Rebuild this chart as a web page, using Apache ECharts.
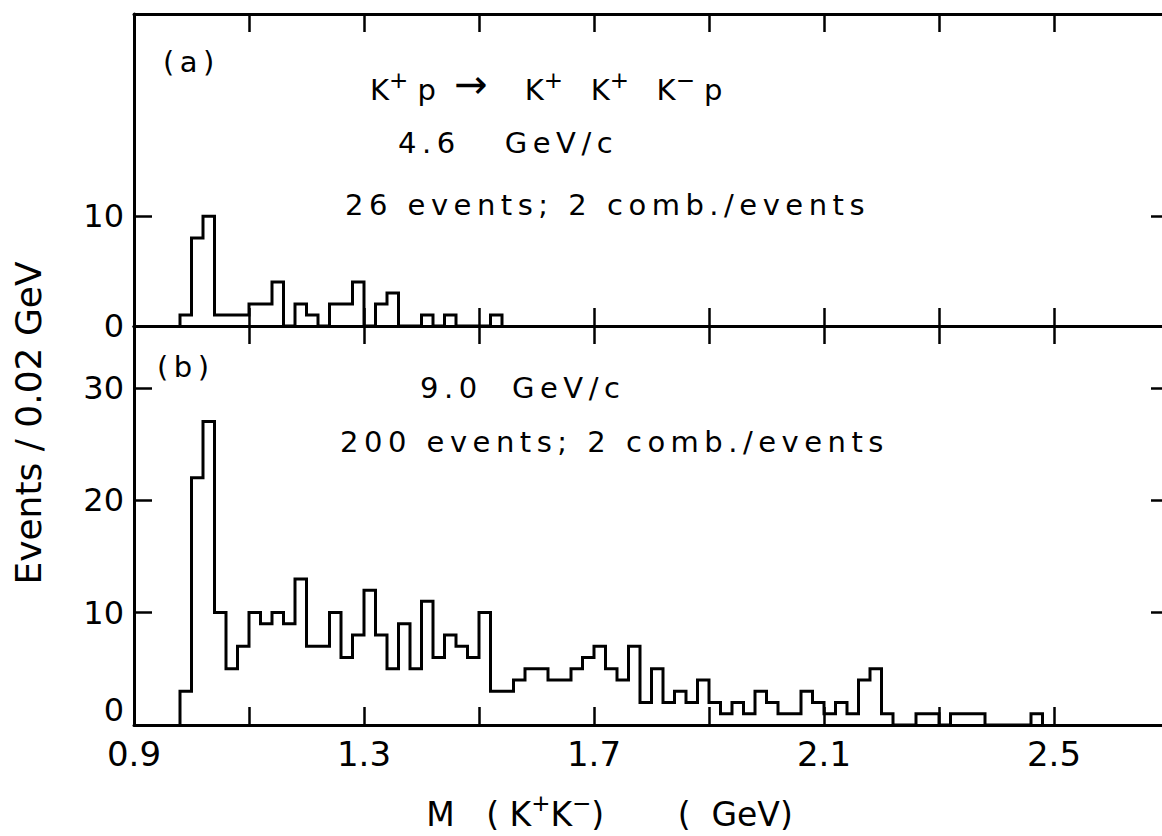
<!DOCTYPE html>
<html>
<head>
<meta charset="utf-8">
<title>M(K+K-) spectra</title>
<script src="https://cdn.jsdelivr.net/npm/echarts@6/dist/echarts.min.js"></script>
<style>
  html, body { margin: 0; padding: 0; background: #fff; }
  #chart { width: 1162px; height: 836px; }
  #chart text { white-space: pre; }
  /* the hand-lettered annotations are widely spaced */
  #chart text[style*="spaced"] { letter-spacing: 5.5px; }
</style>
</head>
<body>
<div id="chart"></div>
<script>
// bins are 0.02 GeV wide, counted from the first bin edge
const binWidth = 0.02;
const firstBin = 0.98;

// (a) 4.6 GeV/c
const countsA = [1, 8, 10, 1, 1, 1, 2, 2, 4, 0, 2, 1, 0, 2, 2, 4, 0, 2, 3, 0,
  0, 1, 0, 1, 0, 0, 0, 1];

// (b) 9.0 GeV/c
const countsB = [3, 22, 27, 10, 5, 7, 10, 9, 10, 9, 13, 7, 7, 10, 6, 8, 12, 8, 5, 9,
  5, 11, 6, 8, 7, 6, 10, 3, 3, 4, 5, 5, 4, 4, 5, 6, 7, 5, 4, 7,
  2, 5, 2, 3, 2, 4, 2, 1, 2, 1, 3, 2, 1, 1, 3, 2, 1, 2, 1, 4,
  5, 1, 0, 0, 1, 1, 0, 1, 1, 1, 0, 0, 0, 0, 1];

const xLabels = [0.9, 1.3, 1.7, 2.1, 2.5];
const yTicksA = [0, 10];
const yTicksB = [0, 10, 20, 30];

const FONT = "'DejaVu Sans'";
const FONT_SPACED = "'DejaVu Sans', spaced";

function histPoints(start, counts) {
  const pts = [[start, 0]];
  counts.forEach((c, i) => pts.push([+(start + i * binWidth).toFixed(2), c]));
  pts.push([+(start + counts.length * binWidth).toFixed(2), 0]);
  return pts;
}

const lineStyle = { color: '#000', width: 3 };
const tick = { show: true, inside: true, length: 18, lineStyle: { color: '#000', width: 2.5 } };

function xAxis(gridIndex, position, withLabels) {
  const ax = {
    type: 'value', gridIndex, position,
    min: 0.9, max: 2.7, interval: 0.2,
    axisLine: { show: true, onZero: false, lineStyle },
    axisTick: tick,
    splitLine: { show: false },
    axisLabel: { show: false }
  };
  if (withLabels) {
    ax.axisLabel = {
      show: true, margin: 12, color: '#000', fontSize: 34, fontFamily: FONT,
      formatter: v => xLabels.some(l => Math.abs(l - v) < 1e-6) ? v.toFixed(1) : ''
    };
    ax.name = '{m|M   ( K}{s|+}{m|K}{s|\u2212}{m|)       (  GeV)}';
    ax.nameLocation = 'middle';
    ax.nameGap = 66;
    ax.nameMoveOverlap = false;
    ax.nameTextStyle = {
      color: '#000', fontFamily: FONT, fontSize: 33, padding: [0, 84, 0, 0],
      rich: {
        m: { fontSize: 33, fontFamily: FONT, color: '#000', lineHeight: 40, verticalAlign: 'bottom' },
        s: { fontSize: 23, fontFamily: FONT, color: '#000', lineHeight: 22, verticalAlign: 'top' }
      }
    };
  }
  return ax;
}

function yAxis(gridIndex, position, max, ticks, withLabels) {
  return {
    type: 'value', gridIndex, position, min: 0, max,
    axisLine: { show: true, onZero: false, lineStyle },
    axisTick: Object.assign({ customValues: ticks }, tick),
    splitLine: { show: false },
    axisLabel: withLabels ? {
      show: true, customValues: ticks, margin: 10, color: '#000',
      fontSize: 32, fontFamily: FONT,
      // the bottom "0" of panel (b) sits above the axis line
      formatter: v => (gridIndex === 1 && v === 0) ? '{z|0}' : String(v),
      rich: { z: { fontSize: 32, fontFamily: FONT, color: '#000', padding: [0, 0, 30, 0] } }
    } : { show: false }
  };
}

function note(x, y, text, extra) {
  return {
    type: 'text', x, y, silent: true,
    style: Object.assign({
      text, fill: '#000', fontSize: 29, fontFamily: FONT_SPACED,
      align: 'left', verticalAlign: 'middle'
    }, extra || {})
  };
}

const chart = echarts.init(document.getElementById('chart'), null, { renderer: 'svg' });

chart.setOption({
  animation: false,
  backgroundColor: '#fff',
  grid: [
    { left: 134, right: -7, top: 14, height: 312, containLabel: false, outerBoundsMode: 'none' },
    { left: 134, right: -7, top: 326, height: 399, containLabel: false, outerBoundsMode: 'none' }
  ],
  xAxis: [
    xAxis(0, 'bottom', false),
    xAxis(0, 'top', false),
    xAxis(1, 'bottom', true),
    xAxis(1, 'top', false)
  ],
  yAxis: [
    yAxis(0, 'left', 28.4, yTicksA, true),
    yAxis(0, 'right', 28.4, yTicksA, false),
    yAxis(1, 'left', 35.5, yTicksB, true),
    yAxis(1, 'right', 35.5, yTicksB, false)
  ],
  series: [
    {
      type: 'line', xAxisIndex: 0, yAxisIndex: 0, step: 'end', symbol: 'none',
      lineStyle: { color: '#000', width: 3, join: 'miter', cap: 'butt' },
      data: histPoints(firstBin, countsA)
    },
    {
      type: 'line', xAxisIndex: 2, yAxisIndex: 2, step: 'end', symbol: 'none',
      lineStyle: { color: '#000', width: 3, join: 'miter', cap: 'butt' },
      data: histPoints(firstBin, countsB)
    }
  ],
  graphic: [
    {
      type: 'text', x: 28, y: 423, rotation: Math.PI / 2, silent: true,
      style: {
        text: 'Events / 0.02 GeV', fill: '#000', fontSize: 36, fontFamily: FONT,
        align: 'center', verticalAlign: 'middle'
      }
    },
    note(163, 62, '(a)'),
    {
      type: 'text', x: 370, y: 68, silent: true,
      style: {
        text: '{m|K}{s|+}{m| p  }{a|\u2192}{m|    K}{s|+}{m|   K}{s|+}{m|   K}{s|\u2212}{m| p}',
        fill: '#000', fontSize: 29, fontFamily: FONT, align: 'left', verticalAlign: 'top',
        rich: {
          m: { fontSize: 29, fontFamily: FONT, fill: '#000', lineHeight: 36, verticalAlign: 'bottom' },
          s: { fontSize: 23, fontFamily: FONT, fill: '#000', lineHeight: 20, verticalAlign: 'top' },
          a: { fontSize: 40, fontFamily: FONT, fill: '#000', lineHeight: 36, verticalAlign: 'bottom' }
        }
      }
    },
    note(398, 143, '4.6   GeV/c'),
    note(345, 205, '26 events; 2 comb./events'),
    note(157, 367, '(b)'),
    note(420, 388, '9.0  GeV/c'),
    note(340, 442, '200 events; 2 comb./events')
  ]
});
</script>
</body>
</html>
